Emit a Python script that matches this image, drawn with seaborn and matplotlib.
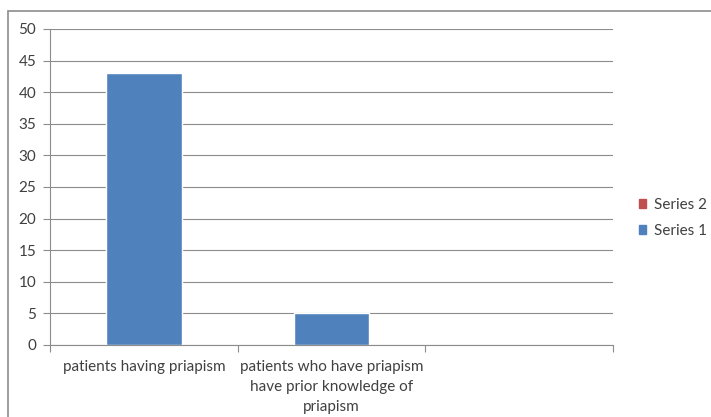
import numpy as np
import pandas as pd
import seaborn as sns
import matplotlib
matplotlib.use("Agg")
import matplotlib.pyplot as plt
from matplotlib.patches import Patch, Rectangle

categories = ["patients having priapism",
              "patients who have priapism\nhave prior knowledge of\npriapism",
              ""]
series1 = [43, 5, np.nan]
series2 = [0, 0, np.nan]
series_names = ["Series 1", "Series 2"]
colors = ["#4F81BD", "#C0504D"]
yticks = list(range(0, 55, 5))

sns.set_theme(style="white")
plt.rcParams['font.family'] = ['Lato', 'DejaVu Sans']

FS = 11
TXT = "#404040"
GRID = "#8c8c8c"

fig = plt.figure(figsize=(7.11, 4.17), dpi=100)
ax = fig.add_axes([50/711, 1-345/417, (613-50)/711, (345-29)/417])

df = pd.DataFrame({"cat": categories, "s1": series1, "s2": series2})
sns.barplot(data=df.dropna(), x="cat", y="s1", order=categories, color=colors[0],
            width=0.404, saturation=1, ax=ax, errorbar=None)

ax.set_xlim(-0.5, 2.5)
ax.set_ylim(0, 50)
ax.set_yticks(yticks)
ax.set_yticklabels([str(v) for v in yticks], fontsize=FS, color=TXT)
ax.grid(axis="y", color=GRID, linewidth=0.8)
ax.set_axisbelow(True)

ax.set_xticks([-0.5, 0.5, 1.5, 2.5])
ax.set_xticklabels([])
ax.set_xticks([0, 1, 2], minor=True)
ax.set_xticklabels(categories, minor=True, fontsize=FS, color=TXT, linespacing=1.55)
ax.tick_params(axis="x", which="major", length=5, color=GRID, width=0.8, direction="out", bottom=True)
ax.tick_params(axis="x", which="minor", length=0, pad=10.5)
ax.tick_params(axis="y", length=5, color=GRID, width=0.8, direction="out", left=True, pad=5)
ax.set_xlabel("")
ax.set_ylabel("")
for s in ["top", "right"]:
    ax.spines[s].set_visible(False)
for s in ["left", "bottom"]:
    ax.spines[s].set_color(GRID)
    ax.spines[s].set_linewidth(0.8)

handles = [Patch(color=colors[1], label=series_names[1]),
           Patch(color=colors[0], label=series_names[0])]
fig.legend(handles=handles, loc="center left", bbox_to_anchor=(625/711, 1-218/417),
           frameon=False, fontsize=FS, handlelength=0.5, handleheight=0.5,
           handletextpad=0.5, labelspacing=0.75, labelcolor=TXT)

fig.patches.append(Rectangle((8/711, -0.1), 1.1, 1 - 10.5/417 + 0.1, transform=fig.transFigure,
                             fill=False, edgecolor=GRID, linewidth=1.2))

fig.savefig("out.png", dpi=100, facecolor="white")
